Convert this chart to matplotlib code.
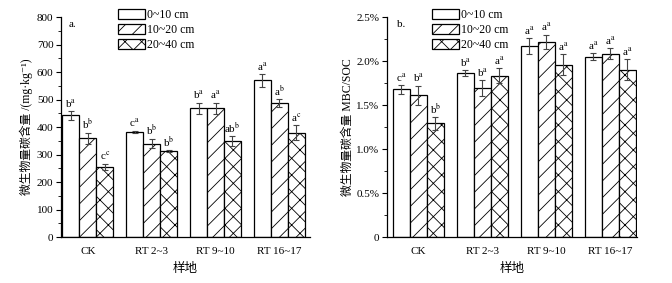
import matplotlib
matplotlib.use("Agg")
import matplotlib.pyplot as plt
from matplotlib.ticker import AutoMinorLocator, FuncFormatter, MultipleLocator
import numpy as np

plt.rcParams['font.family'] = ['Liberation Serif', 'Noto Sans CJK SC', 'DejaVu Serif']
plt.rcParams['mathtext.fontset'] = 'stix'
plt.rcParams['hatch.linewidth'] = 0.6
plt.rcParams['font.size'] = 8

sites = ["CK", "RT 2~3", "RT 9~10", "RT 16~17"]
depths = ["0~10 cm", "10~20 cm", "20~40 cm"]
hatches = ["", "//", "xx"]

# panel a: MBC (mg/kg), rows = depth, cols = site
mbc = [[442, 382, 468, 570],
       [359, 340, 468, 488],
       [254, 312, 349, 379]]
mbc_err = [[15, 4, 20, 23],
           [20, 17, 20, 14],
           [12, 4, 18, 27]]
mbc_lab = [["b", "a"], ["c", "a"], ["b", "a"], ["a", "a"]], \
          [["b", "b"], ["b", "b"], ["a", "a"], ["a", "b"]], \
          [["c", "c"], ["b", "b"], ["ab", "b"], ["a", "c"]]

# panel b: MBC/SOC (%)
ratio = [[1.677, 1.865, 2.17, 2.05],
         [1.61, 1.69, 2.22, 2.085],
         [1.29, 1.835, 1.96, 1.90]]
ratio_err = [[0.05, 0.03, 0.09, 0.04],
             [0.11, 0.09, 0.08, 0.06],
             [0.07, 0.08, 0.12, 0.12]]
ratio_lab = [["c", "a"], ["b", "a"], ["a", "a"], ["a", "a"]], \
            [["b", "a"], ["b", "a"], ["a", "a"], ["a", "a"]], \
            [["b", "b"], ["a", "a"], ["a", "a"], ["a", "a"]]

fig = plt.figure(figsize=(6.72, 2.83), dpi=100)
ax1 = fig.add_axes([0.0908, 0.1625, 0.3705, 0.7774])
ax2 = fig.add_axes([0.5759, 0.1625, 0.372, 0.7774])

x = np.arange(len(sites))
w = 0.265


def draw(ax, vals, errs, labs, xlim, tag, legx):
    for i in range(3):
        pos = x + (i - 1) * w
        ax.bar(pos, vals[i], w, color="white", edgecolor="black",
               linewidth=0.9, hatch=hatches[i], label=depths[i], zorder=2)
        ax.errorbar(pos, vals[i], yerr=errs[i], fmt="none", ecolor="#444444",
                    elinewidth=0.8, capsize=2, capthick=0.8, zorder=3)
        for j in range(len(sites)):
            base, sup = labs[i][j]
            ax.annotate(base + r"$^{\mathrm{" + sup + "}}$",
                        (pos[j], vals[i][j] + errs[i][j]),
                        xytext=(0, 1), textcoords="offset points",
                        ha="center", va="bottom", fontsize=8)
    ax.set_xlim(*xlim)
    ax.set_xticks(x)
    ax.set_xticklabels(sites)
    ax.tick_params(axis="x", length=0, pad=7)
    ax.tick_params(axis="y", direction="out", length=3.5, width=0.8, pad=2)
    ax.tick_params(axis="y", which="minor", direction="out", length=2, width=0.6)
    ax.yaxis.set_minor_locator(AutoMinorLocator(2))
    for s in ["top", "right"]:
        ax.spines[s].set_visible(False)
    ax.spines["left"].set_linewidth(0.9)
    ax.spines["bottom"].set_linewidth(0.9)
    ax.set_xlabel("样地", fontsize=9, labelpad=5)
    ax.text(0.03 if tag == "a." else 0.04, 0.985, tag, transform=ax.transAxes,
            ha="left", va="top", fontsize=8)
    ax.legend(loc="upper left", bbox_to_anchor=(legx, 1.035), frameon=False,
              handlelength=2.25, handleheight=0.9, labelspacing=0.25,
              handletextpad=0.2, borderpad=0, borderaxespad=0, fontsize=8.5)


draw(ax1, mbc, mbc_err, mbc_lab, (-0.42, 3.48), "a.", 0.229)
ax1.set_ylim(0, 800)
ax1.yaxis.set_major_locator(MultipleLocator(100))
ax1.set_ylabel("微生物量碳含量 /(mg·kg⁻¹)", fontsize=8.5, labelpad=3)

draw(ax2, ratio, ratio_err, ratio_lab, (-0.49, 3.42), "b.", 0.18)
ax2.set_ylim(0, 2.5)
ax2.yaxis.set_major_locator(MultipleLocator(0.5))
ax2.yaxis.set_major_formatter(FuncFormatter(lambda v, p: "0" if v == 0 else f"{v:.1f}%"))
ax2.set_ylabel("微生物量碳含量 MBC/SOC", fontsize=8.5, labelpad=2)

fig.savefig("out.png", dpi=100)
